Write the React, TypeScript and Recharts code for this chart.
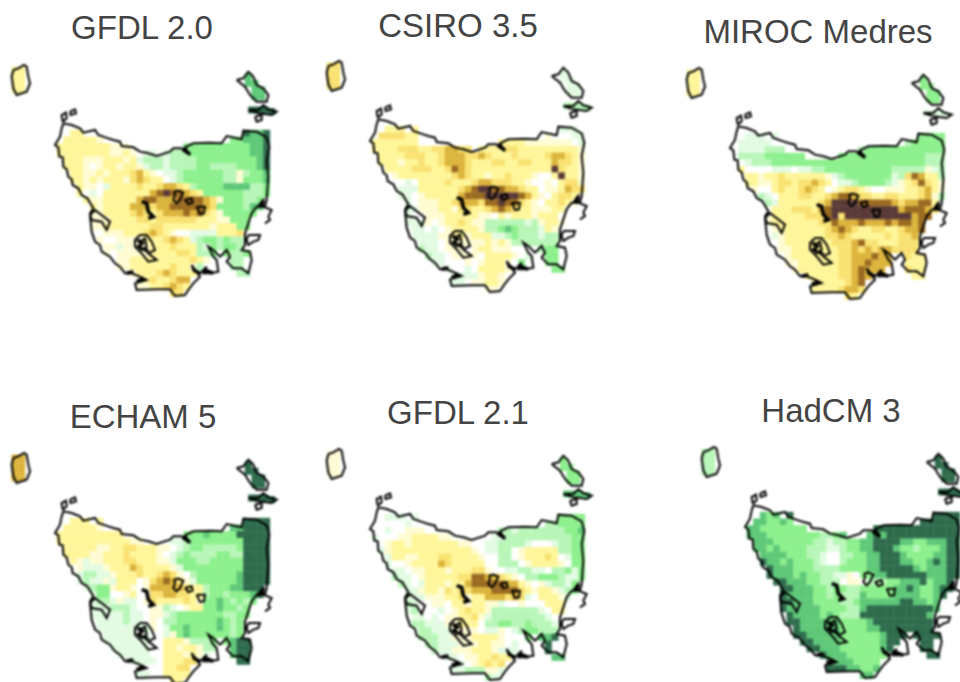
import { ScatterChart, Scatter, XAxis, YAxis } from "recharts";

// rainfall change classes, dry (a) to wet (l), "." is sea
const classColors: Record<string, string> = {
    a: "#5a3a38",
    b: "#9a6a20",
    c: "#dcb43c",
    d: "#f9e272",
    e: "#fff69a",
    f: "#fffcd4",
    g: "#ffffff",
    h: "#e2fbe2",
    i: "#b8f6b8",
    j: "#8cf08c",
    k: "#5ec878",
    l: "#2e6b4c",
};

const titles = ["GFDL 2.0", "CSIRO 3.5", "MIROC Medres", "ECHAM 5", "GFDL 2.1", "HadCM 3"];

const landMask = [
    "..###.#.....................####",
    ".#######..................######",
    "###########........#############",
    "###############.################",
    ".###############################",
    ".###############################",
    "..##############################",
    "..##############################",
    "...#############################",
    "...#############################",
    "....###########################.",
    ".....##########################.",
    ".....#########################..",
    ".....########################...",
    ".....########################...",
    "......######################....",
    "......######################....",
    ".......#####################....",
    ".......#################.####...",
    "........################..###...",
    ".........##############...###...",
    "...........##########......##...",
    "............########............",
    "............########............",
    ".................###............",
];

const gfdl20 = [
    "..ee.e.....................llkkl",
    ".eeeeef...................jjkkkl",
    "eeeeeeeefff........jjjjjjjjjjkkl",
    "eeeeeeeeffefghhhhiiijjjjjjjjjkkl",
    ".eeefffeeefehiiihiiiijjjjjjjjjkl",
    ".eeefgfeefeefhiihiiiijjiiiijjjkl",
    "..eeffefeeedcefghhijjjjjjiifijjk",
    "..eefefeeefdcdeeghijjjjjjiifjjjk",
    "...effgheeeedeedccdeijjjjkkkkiij",
    "...eghgeeeeeeecbabbcdejjjjjjiiij",
    "....effeeeeecbbcccbbbbcdfjjjiijk",
    ".....efeeeecccdccbbbbbcdjjjjikkl",
    ".....ffeeeedcdedcccbcbdefjjjjj..",
    ".....fffeeeeddeddddddeeeffjjjj..",
    ".....ffeeeeeeeddeeeeeeefeeejj...",
    "......gfffeeedcdefgghhhheeedi...",
    "......fggffffeeedcdehijjijiieed.",
    ".......ffhffffeeedeeeihjijjijee.",
    ".......fgfffffeeeeddeiij.jiij...",
    "........gffeeeeeeeeedef..iii....",
    ".........ffeeeeeedeefi...jii....",
    "...........feeedcdeee.e....ii...",
    "............fedeedcceg..........",
    "............ffeedcde............",
    ".................dd.............",
];

const csiro35 = [
    "..eee.e....................hhhhg",
    ".ddddee...................fggghh",
    "eeeeeeegg.........geeeefffffffgh",
    "eeeedddeeddccddeeeeeddeeeeeeeeef",
    ".eeeedddeedcccddcdeeedeeeedccdef",
    ".eeefeedeedcccdeeeddeeddeeecddef",
    "..eeeedddeedbcdeeeeeeeeeeeeadeef",
    "..gfeeeeeeeedcdeefeedeeefggeaeef",
    "...gghgeeeedeeedccdddeefggfgeddf",
    "...ghhheeeeeedcbaabbccdeegffecdd",
    "....hhgfeeeeecbbbaaaaabcefgeddee",
    ".....hgfffeedcccdbbabbdefgeedef.",
    ".....hhfffeefddeedcbcdeefffeeg..",
    ".....hggfffeeeeeffgefeeefeeeg...",
    ".....hhhfgfeedeffiiiiiihifeef...",
    "......hhghgfeeeefiijkjiiihefg...",
    "......hhhhffeefeeehhijiiihiife..",
    ".......hhhgffffffefefiiiiiiiifg.",
    ".......ihhgfffgfeefffgg.hijj....",
    "........ihhgffffgeeeefgh.ijj....",
    ".........hhgggfgfeeefgj..jjj....",
    "...........hgghgeeeefjj.j..jj...",
    "............hhhhfeefgj..........",
    "............hhgffeef............",
    ".................ff.............",
];

const mirocMedres = [
    "..hhh.h....................jjjjj",
    ".hhhhhg...................ijjjjj",
    "ghhhhiiig.........iijjjjjjjjjjjj",
    "giiiijjjjjj....ijjjjjjjjjjjjjiii",
    ".ghiiijjjjjjjjjjjjjjjjjjjjjjjiii",
    ".egggghhhghhiijjjjjjjjjjiiiiifhi",
    "..eefeedeeeeeefhijjjjjjjhidbceei",
    "..eeffeddeddcdeghhijjjjihfedbdef",
    "...fggedeedcdegfeddefggfffeedcef",
    "...gihgeeeddeedcbbcddeeddeeedcfi",
    "....giheeeeeedcaaaabbbbbcdccbbei",
    ".....geeedddecbaaaaaaaaaacbbbcdh",
    ".....feeeeedddbadaaaaaaaaaacbbcd",
    ".....feeeeeeeddbcccbcccbcbbcbbdd",
    ".....gfeeeeeeedcbcdeeddeedccbbc.",
    "......hfeeeeeeddcdeeeeededdcbc..",
    "......gfeeeeeeedddcbddeeedddddc.",
    ".......ffeeeeeeeddcdcdccdddddee.",
    ".......gfeeeeeeeddcccbccd.deeg..",
    "........ffeeeeeeddccbccc..eee...",
    ".........feeeeeeddcbccc...dee...",
    "...........eeeeeddcbccd.d..ee...",
    "............eeeeedcbcd..........",
    "............eeeedccdd...........",
    ".................de.............",
];

const echam5 = [
    "..eee.e....................lllll",
    ".eeeeef...................kkllll",
    "eeeeeeeeee.........jjjkjjjjlllll",
    "eeeeeeeeeeeffggh.hhijjjjjjjjllll",
    ".eeeeeffeeddeeeffghijjiiiiijllll",
    ".eeeeffeeedeeeefghijiiiijjiillll",
    "..efhffeeeddeeeffhjjjiijjjjjllll",
    "..gfhhhfeeecdeeeefhjjjjjjjjjllll",
    "...hiihhfeeedeedcdfgijjjjjjkllll",
    "...hihhfheeegfdcbcdfhjjjjjjkllll",
    "....hijjfeefgfcccccdeeijjjkkllll",
    ".....hjjggfeggddccddeeijjijjjkll",
    ".....hiihfhhgfdeeeedefjjkjijijll",
    ".....hhhiiihggffihgfeejjkjjijjl.",
    ".....hhhhhihhgffhijjjjjjjiijjkl.",
    "......hhhhihhgfgiijjjjjjkjijjl..",
    "......hhhhhhhhfghjjkjjjjkjijj...",
    ".......hhhhhghgghfjkjjjjjjijj...",
    ".......hhhhhhhggeeefiiij.jkll...",
    "........hhhhhhggeefeefii..kll...",
    ".........hhhhhggeeefefh...kll...",
    "...........hhhhgeeeddff.f..ll...",
    "............ggggeeddef..........",
    "............hhggeeee............",
    ".................ee.............",
];

const gfdl21 = [
    "..hhh.h....................jjjjj",
    ".gggghg...................iijjjj",
    "gghggfffggg.......hiihiiiiiiijjk",
    "hgggffeeeeffgg....hhiiiiiiiiiijj",
    ".gfeefeeeeeeeffgghhiiiihggghiijj",
    ".hfeeeeeeeeeeeefghhiigfeeeeeiijj",
    "..heeffeeeddeeeefggiigfeeedeghjj",
    "..hggfeeeecdeeeeeggiiigfeeeefgjj",
    "...hhgffeeefeeeddfgghhiihhgiijhj",
    "...ihhgfeeeeeddbbccdefgiijjjihhj",
    "....ihgheeefeecbbbbbccefgfhiihjk",
    ".....hhfeefdeddcccbbbbdefeefhij.",
    ".....hhhfffeedfeecccdcdhgeeefhg.",
    ".....ihggffgeefeeffhggfgggeeefg.",
    ".....higgghgfedeefiiiiiiihgeefg.",
    "......hhghgffeedfhiiiiiiiihggg..",
    "......iihhhffeeegiijjiijiiihhg..",
    ".......iihhhffffghhfghijjiiig...",
    ".......iiihhfffeeeefgg.jkkkl....",
    "........iihhhfffeeffgh..kkl.....",
    ".........ihhfffeeefhhh..kkl.....",
    "...........hhgffeedeefj.j..kk...",
    "............hhgfededfi..........",
    "............hhiiiffhij..........",
    ".................ih.............",
];

const hadcm3 = [
    "..kjk.l....................lllll",
    ".kkjjkj...................llllll",
    "kkjjjjjjj.........llllllllllllll",
    "kkkjjjjjjjjiijk...klklllllllllll",
    ".kkkjjjjjjiihiijjkkllllkkjjkkkll",
    ".kkjkjjjjiiihhijjkklllkjjijjjkll",
    "..kkkkjjjiihggiijjkklllkjjjjkkll",
    "..lkkjkjjjihggijjjkklllkkjjklkll",
    "...lkkkjjjiiiijjjjkklllllkjkkkll",
    "...lkkkjkjjiihhfgjjkkllllllkkkll",
    "....llkkkjjiiigffgiiijjkkkljkkll",
    ".....llkkkjjijjiijjjjjkklkjjklll",
    ".....lkkkkjjijiiikjjjjkkkkjjkll.",
    ".....llkkkjjjjiijkkkkkkllkkjkl..",
    ".....lkkkkkjjjjiikllllllllllkll.",
    "......lkkkkjkjiiillllllllllkkl..",
    "......llkkkkkkjjjjklllllllllll..",
    ".......lkkkkkkjjjjkklllllllll...",
    ".......llkkkkkjjjjjjklll.lllll..",
    "........llkkkkjjjjjjkll..lll....",
    ".........llkkkjjjjjjkl...lll....",
    "...........lkkkjjjjjjk.l...ll...",
    "............lkkkjjjjjk..........",
    "............lllkkjjk............",
    ".................kk.............",
];

// islands get one class each per model
const kingClass = ["e", "d", "e", "c", "f", "i"];
const flindersClass = ["k", "h", "j", "l", "j", "l"];
const barrenClass = ["l", "i", "h", "l", "k", "l"];

const kingCells = [[45, 30], [65, 30], [45, 50], [65, 50], [45, 70], [65, 70], [45, 90], [65, 90]];
const flindersCells = [[745, 50], [745, 70], [765, 70], [765, 90], [785, 90], [785, 110], [765, 110]];
const barrenCells = [[755, 150], [775, 150], [795, 150], [815, 155]];

// coast and lakes traced in map units
const mainCoast = [
    [185, 205], [190, 190], [215, 195], [240, 205], [250, 218], [285, 210], [295, 225], [325, 235], [340, 240], [360, 245],
    [365, 258], [400, 262], [420, 275], [445, 280], [470, 288], [510, 275], [520, 265], [545, 265], [570, 285], [555, 262],
    [580, 250], [630, 248], [665, 250], [680, 228], [725, 238], [730, 212], [770, 215], [800, 232], [808, 260], [800, 300],
    [805, 350], [800, 420], [795, 440], [770, 440], [755, 460], [745, 490], [735, 520], [735, 555], [725, 570], [750, 575],
    [755, 600], [745, 640], [725, 625], [700, 625], [680, 605], [690, 590], [680, 570], [660, 590], [640, 570], [625, 560],
    [640, 590], [650, 600], [655, 635], [630, 640], [610, 640], [620, 620], [600, 640], [580, 630], [575, 615], [600, 650],
    [580, 670], [565, 690], [555, 705], [525, 708], [510, 688], [470, 688], [410, 690], [405, 670], [440, 660], [420, 650],
    [395, 640], [375, 640], [360, 620], [345, 610], [330, 590], [305, 575], [300, 555], [285, 545], [275, 515], [270, 465],
    [285, 450], [330, 485], [320, 510], [305, 485], [275, 480], [270, 460], [280, 445], [262, 415], [245, 405], [235, 385],
    [218, 375], [215, 358], [205, 350], [200, 328], [190, 320], [188, 292], [178, 290], [175, 262], [165, 255], [180, 230],
    [185, 205],
];
const kingCoast = [[40, 30], [55, 25], [72, 15], [80, 20], [85, 50], [90, 70], [80, 95], [50, 105], [40, 85], [35, 50], [40, 30]];
const flindersCoast = [[710, 60], [730, 55], [745, 35], [760, 50], [770, 75], [790, 85], [805, 105], [800, 125], [770, 125], [750, 105], [735, 80], [710, 60]];
const barrenCoast = [[745, 150], [775, 150], [790, 135], [805, 148], [830, 155], [815, 165], [775, 160], [745, 150]];
const clarkeCoast = [[765, 170], [785, 165], [785, 180], [770, 185], [765, 170]];
const hunterCoast = [[188, 185], [185, 165], [198, 158], [200, 175], [188, 185]];
const threeHummockCoast = [[210, 155], [225, 148], [228, 160], [212, 165], [210, 155]];
const freycinetCoast = [[775, 440], [790, 420], [790, 440], [815, 450], [805, 470], [810, 480], [795, 490]];
const mariaCoast = [[745, 525], [780, 525], [775, 540], [760, 545], [745, 555], [740, 540], [745, 525]];
const greatLake = [[522, 395], [535, 392], [550, 398], [540, 420], [530, 430], [520, 420], [525, 405], [522, 395]];
const arthursLake = [[555, 420], [575, 415], [578, 428], [565, 432], [555, 420]];
const sorellLake = [[590, 440], [615, 440], [612, 460], [600, 462], [590, 440]];
const pedderLake = [[420, 525], [440, 525], [455, 545], [465, 570], [445, 580], [470, 600], [445, 605], [425, 580], [405, 560], [405, 540], [420, 525]];
const gordonLake = [[420, 545], [435, 535], [440, 560], [425, 570], [420, 545]];

const outlines = [
    mainCoast, kingCoast, flindersCoast, barrenCoast, clarkeCoast, hunterCoast, threeHummockCoast,
    freycinetCoast, mariaCoast, greatLake, arthursLake, sorellLake, pedderLake, gordonLake,
];

// wider black runs where the outline closes up
const stClair = [[425, 425], [440, 430], [445, 455], [460, 470], [445, 475]];
const blobs = [
    stClair,
    [[380, 640], [400, 635]],
    [[410, 665], [432, 655]],
    [[780, 438], [790, 422]],
    [[548, 268], [570, 283]],
    [[412, 540], [432, 552]],
    [[412, 556], [425, 566]],
    [[430, 565], [445, 575]],
    [[580, 630], [600, 640]],
    [[615, 630], [640, 640]],
];

const panelRows = [gfdl20, csiro35, mirocMedres, echam5, gfdl21, hadcm3];

const panelPos = [
    { left: 0, top: 60, titleX: 142, titleY: 28 },
    { left: 315, top: 56, titleX: 458, titleY: 26 },
    { left: 675, top: 63, titleX: 818, titleY: 32 },
    { left: 0, top: 448, titleX: 143, titleY: 417 },
    { left: 315, top: 444, titleX: 458, titleY: 413 },
    { left: 690, top: 442, titleX: 831, titleY: 411 },
];

function buildCells(index: number) {
    const cells: { x: number; y: number; cls: string }[] = [];
    panelRows[index].forEach((row, r) => {
        row.split("").forEach((cls, c) => {
            if (cls !== "." && landMask[r][c] === "#") cells.push({ x: 180 + c * 20, y: 220 + r * 20, cls });
        });
    });
    kingCells.forEach(([x, y]) => cells.push({ x, y, cls: kingClass[index] }));
    flindersCells.forEach(([x, y]) => cells.push({ x, y, cls: flindersClass[index] }));
    barrenCells.forEach(([x, y]) => cells.push({ x, y, cls: barrenClass[index] }));
    return cells;
}

function CellSquare(props: any) {
    const { cx, cy, payload } = props;
    return <rect x={cx - 3.5} y={cy - 3.5} width={7} height={7} fill={classColors[payload.cls]} />;
}

function MapPanel({ index }: { index: number }) {
    const pos = panelPos[index];
    return (
        <>
            <div
                style={{
                    position: "absolute",
                    left: pos.titleX,
                    top: pos.titleY,
                    transform: "translate(-50%, -50%)",
                    fontFamily: "'Liberation Sans', sans-serif",
                    fontSize: 33,
                    color: "#444",
                    whiteSpace: "nowrap",
                }}
            >
                {titles[index]}
            </div>
            <div style={{ position: "absolute", left: pos.left, top: pos.top, filter: "blur(0.8px)" }}>
                <ScatterChart width={300} height={250} margin={{ top: 0, right: 0, bottom: 0, left: 0 }}>
                    <XAxis type="number" dataKey="x" domain={[0, 900]} hide />
                    <YAxis type="number" dataKey="y" domain={[0, 750]} reversed hide />
                    <Scatter data={buildCells(index)} shape={CellSquare} isAnimationActive={false} />
                    {outlines.map((pts, i) => (
                        <Scatter
                            key={i}
                            data={pts.map(([x, y]) => ({ x, y }))}
                            line={{ stroke: "#000", strokeWidth: 2 }}
                            shape={() => <g />}
                            isAnimationActive={false}
                        />
                    ))}
                    {blobs.map((pts, i) => (
                        <Scatter
                            key={"b" + i}
                            data={pts.map(([x, y]) => ({ x, y }))}
                            line={{ stroke: "#000", strokeWidth: 3.6 }}
                            shape={() => <g />}
                            isAnimationActive={false}
                        />
                    ))}
                </ScatterChart>
            </div>
        </>
    );
}

export default function App() {
    return (
        <div style={{ position: "absolute", left: 0, top: 0, width: 960, height: 682, overflow: "hidden", background: "#fff" }}>
            {titles.map((_, i) => (
                <MapPanel key={i} index={i} />
            ))}
        </div>
    );
}
